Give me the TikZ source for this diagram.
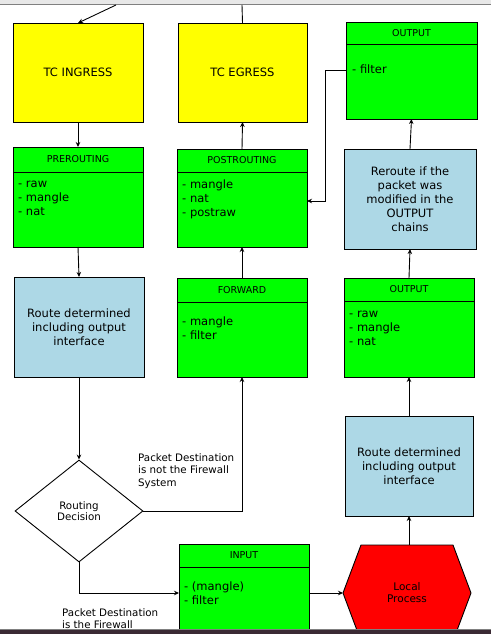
\documentclass[tikz,border=0pt]{standalone}
\usepackage{fontspec}
\setmainfont{DejaVu Sans}
\usetikzlibrary{arrows.meta,shapes.geometric}

\definecolor{tcyellow}{RGB}{255,255,0}
\definecolor{chaingreen}{RGB}{0,255,0}
\definecolor{routeblue}{RGB}{173,216,230}
\definecolor{procred}{RGB}{255,0,0}
\definecolor{barlight}{RGB}{232,232,232}
\definecolor{bardark}{RGB}{58,42,52}

\tikzset{
  box/.style={draw=black, line width=0.9pt, inner sep=0pt, outer sep=0pt},
  tcbox/.style={box, fill=tcyellow, font=\fontsize{11.5}{14}\selectfont},
  chainhead/.style={box, fill=chaingreen, font=\fontsize{9.5}{11}\selectfont},
  chainbody/.style={box, fill=chaingreen},
  routebox/.style={box, fill=routeblue, align=center, font=\fontsize{11.5}{14}\selectfont},
  items/.style={inner sep=0pt, anchor=base west, font=\fontsize{11.5}{14}\selectfont},
  note/.style={inner sep=0pt, anchor=base west, font=\fontsize{10.3}{12.5}\selectfont},
  decision/.style={diamond, draw=black, line width=0.9pt, fill=white, aspect=1.25,
    inner sep=0pt, align=center, font=\fontsize{10.3}{11.5}\selectfont},
  arr/.style={draw=black, line width=0.9pt, -{Stealth[length=5pt,width=4.5pt]}},
  link/.style={draw=black, line width=0.9pt},
}

% stacked text lines, baseline of the first line on the anchor
\newcommand{\itemlist}[1]{\parbox[t]{110pt}{\raggedright #1}}

\begin{document}
\begin{tikzpicture}[x=1pt, y=-1pt]
\useasboundingbox (0,0) rectangle (491,634);
\clip (0,0) rectangle (491,634);
\fill[white] (0,0) rectangle (491,634);

% window strips along the edges
\fill[barlight] (0,0) rectangle (491,4.5);
\draw[gray, line width=0.8pt] (0,4.5) -- (491,4.5);

% tc hooks
\node[tcbox, minimum width=130pt, minimum height=99pt] (tcin) at (78,72.5) {TC INGRESS};
\node[tcbox, minimum width=129pt, minimum height=99pt] (tceg) at (242.5,72.5) {TC EGRESS};

% OUTPUT (filter)
\node[chainhead, minimum width=131pt, minimum height=22pt] (outtophead) at (411.5,33) {OUTPUT};
\node[chainbody, minimum width=131pt, minimum height=75pt, anchor=north] (outtopbody) at (outtophead.south) {};
\node[items] (outtoplist) at (352,74) {\itemlist{- filter}};

% PREROUTING
\node[chainhead, minimum width=130pt, minimum height=25pt] (prehead) at (78,159.5) {PREROUTING};
\node[chainbody, minimum width=130pt, minimum height=75pt, anchor=north] (prebody) at (prehead.south) {};
\node[items] (prelist) at (18,187.5) {\itemlist{- raw\\- mangle\\- nat}};

% POSTROUTING
\node[chainhead, minimum width=130pt, minimum height=23pt] (poshead) at (242,160.5) {POSTROUTING};
\node[chainbody, minimum width=130pt, minimum height=75pt, anchor=north] (posbody) at (poshead.south) {};
\node[items] (poslist) at (182,188) {\itemlist{- mangle\\- nat\\- postraw}};

% reroute check
\node[routebox, minimum width=132pt, minimum height=100pt] (reroute) at (410,199)
  {Reroute if the\\packet was\\modified in the\\OUTPUT\\chains};

% routing on the way in
\node[routebox, minimum width=130pt, minimum height=100pt] (routeL) at (79,327)
  {Route determined\\including output\\interface};

% FORWARD
\node[chainhead, minimum width=130pt, minimum height=24pt] (fwdhead) at (242,290) {FORWARD};
\node[chainbody, minimum width=130pt, minimum height=75pt, anchor=north] (fwdbody) at (fwdhead.south) {};
\node[items] (fwdlist) at (182,325) {\itemlist{- mangle\\- filter}};

% OUTPUT (raw, mangle, nat)
\node[chainhead, minimum width=130pt, minimum height=23pt] (outmidhead) at (409,289.5) {OUTPUT};
\node[chainbody, minimum width=130pt, minimum height=76pt, anchor=north] (outmidbody) at (outmidhead.south) {};
\node[items] (outmidlist) at (349,317) {\itemlist{- raw\\- mangle\\- nat}};

% routing for locally generated packets
\node[routebox, minimum width=128pt, minimum height=100pt] (routeR) at (409,466)
  {Route determined\\including output\\interface};

% routing decision
\node[decision, minimum width=128pt, minimum height=102pt] (dec) at (79,511) {Routing\\Decision};

% INPUT
\node[chainhead, minimum width=130pt, minimum height=23pt] (inhead) at (244,555.5) {INPUT};
\node[chainbody, minimum width=130pt, minimum height=75pt, anchor=north] (inbody) at (inhead.south) {};
\node[items] (inlist) at (184,590.5) {\itemlist{- (mangle)\\- filter}};

% local process
\draw[fill=procred, line width=0.9pt] (361,545) -- (453,545) -- (471,593) -- (453,641)
  -- (361,641) -- (343,593) -- cycle;
\coordinate (lpW) at (343,593);
\coordinate (lpN) at (407,545);
\node[inner sep=0pt, align=center, font=\fontsize{10.5}{12}\selectfont] (lp) at (407,592.5) {Local\\Process};

% notes on the decision branches
\node[note] (notfw) at (138,461) {\itemlist{Packet Destination\\is not the Firewall\\System}};
\node[note] (isfw) at (62,616) {\itemlist{Packet Destination\\is the Firewall}};

% connectors
\coordinate (wirein) at (116,5);
\coordinate (wireout) at (242,5);
\draw[arr] (wirein) -- (tcin.north);
\draw[link] (tceg.north) -- (wireout);
\draw[arr] (tcin.south) -- (prehead.north);
\draw[arr] (prebody.south) -- (routeL.north);
\draw[arr] (routeL.south) -- (dec.north);
\draw[arr] (dec.east) -| (fwdbody.south);
\draw[arr] (dec.south) |- ([yshift=11.5pt]inbody.west);
\draw[arr] ([yshift=11.5pt]inbody.east) -- (lpW);
\draw[arr] (routeR.south |- lpN) -- (routeR.south);
\draw[arr] (routeR.north) -- (outmidbody.south);
\draw[arr] (outmidhead.north) -- (reroute.south);
\draw[arr] (reroute.north) -- (outtopbody.south);
\draw[arr] ([yshift=11.5pt]outtopbody.west) -- ++(-20.5,0) |- ([yshift=8.5pt]posbody.east);
\draw[arr] (fwdhead.north) -- (posbody.south);
\draw[arr] (poshead.north) -- (tceg.south);

% bottom panel edge
\draw[gray, line width=0.8pt] (0,629.5) -- (491,629.5);
\fill[bardark] (0,630) rectangle (491,634);
\end{tikzpicture}
\end{document}
